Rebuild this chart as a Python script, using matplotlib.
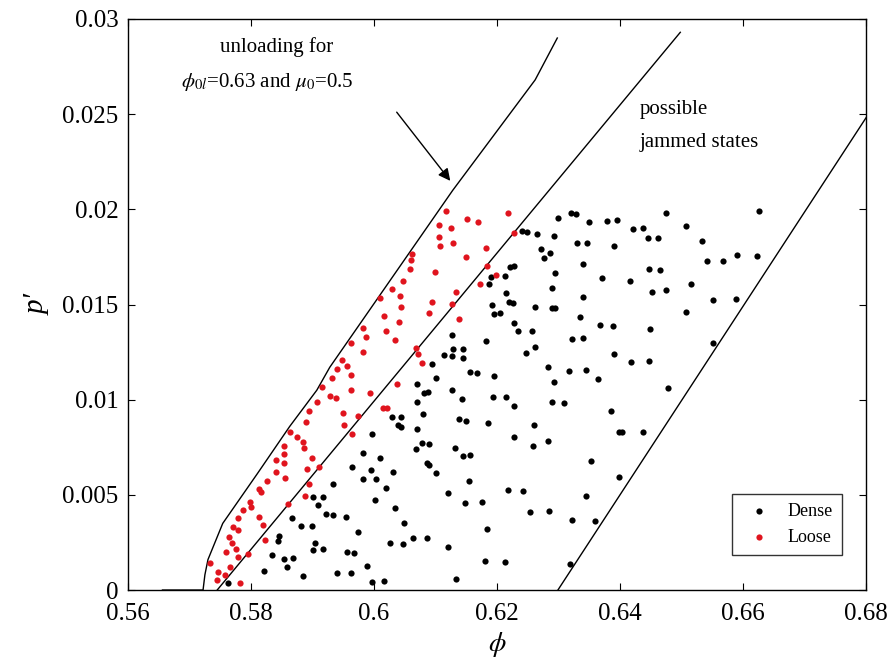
import matplotlib
matplotlib.use("Agg")
import matplotlib.pyplot as plt
import numpy as np

plt.rcParams['font.family'] = ['Liberation Serif', 'DejaVu Serif']
plt.rcParams['mathtext.fontset'] = 'stix'

# dense samples (phi, p')
dense_phi = [
    0.59338, 0.59013, 0.59176, 0.59085, 0.59215, 0.59328, 0.58672, 0.58813, 0.58987, 0.58450,
    0.58444, 0.59041, 0.59013, 0.59176, 0.58337, 0.58537, 0.58678, 0.58580, 0.58211, 0.58850,
    0.59393, 0.57631,
    0.61263, 0.61279, 0.61442, 0.61138, 0.61273, 0.61442, 0.60938, 0.61561, 0.61670, 0.61008,
    0.60694, 0.60818, 0.60873, 0.61273,
    0.60704, 0.61426, 0.60288, 0.60439, 0.60395, 0.60439, 0.60802, 0.60704, 0.61382, 0.61496,
    0.59963, 0.60785, 0.60899, 0.60683, 0.61317, 0.61442, 0.61561, 0.59816, 0.60098, 0.59637,
    0.59951, 0.60314, 0.60856, 0.60894, 0.61008, 0.59826, 0.60028, 0.61550, 0.60195, 0.61198,
    0.60016, 0.61480, 0.60341, 0.59540, 0.60493, 0.59735, 0.60629, 0.60867, 0.60260, 0.60467,
    0.61198, 0.59556, 0.59680, 0.59881, 0.59626, 0.59963, 0.60163, 0.61333,
    0.62997, 0.63203, 0.63285, 0.63501, 0.63784, 0.63946, 0.62411, 0.62493, 0.62646, 0.62932,
    0.63306, 0.63468, 0.63902, 0.62710, 0.62862, 0.62764, 0.63403, 0.62211, 0.62281, 0.62943,
    0.61897, 0.62130, 0.63702, 0.61875, 0.62889, 0.62146, 0.63403, 0.62195, 0.62255, 0.61913,
    0.62618, 0.62889, 0.62943, 0.61951, 0.62049, 0.63350, 0.62276, 0.63675, 0.63881, 0.62337,
    0.62574, 0.63214, 0.63403, 0.61816, 0.62618, 0.62466, 0.63902, 0.62824, 0.63176, 0.63442,
    0.61956, 0.63637, 0.62927,
    0.61940, 0.62146, 0.62281, 0.62899, 0.63094, 0.63849, 0.61859, 0.62606, 0.62281, 0.62590,
    0.62824, 0.63984, 0.63528, 0.63984, 0.62174, 0.62428, 0.61751, 0.63442, 0.62537, 0.62850,
    0.63214, 0.63593, 0.61842, 0.61805, 0.62135, 0.63187,
    0.64743, 0.64217, 0.64379, 0.65068, 0.64460, 0.64623, 0.65328, 0.66260, 0.65420, 0.65670,
    0.65907, 0.66222, 0.64472, 0.64650, 0.64163, 0.65154, 0.64515, 0.64748, 0.65517, 0.65881,
    0.65073, 0.64488, 0.65517, 0.64179, 0.64476, 0.64776, 0.64028, 0.64379,
]
dense_p = [
    0.00555, 0.00490, 0.00490, 0.00447, 0.00399, 0.00396, 0.00377, 0.00336, 0.00336, 0.00284,
    0.00259, 0.00249, 0.00210, 0.00214, 0.00184, 0.00163, 0.00170, 0.00119, 0.00101, 0.00075,
    0.00088, 0.00035,
    0.01340, 0.01265, 0.01265, 0.01235, 0.01231, 0.01217, 0.01187, 0.01144, 0.01139, 0.01116,
    0.01081, 0.01033, 0.01039, 0.01051,
    0.00989, 0.01002, 0.00907, 0.00911, 0.00867, 0.00858, 0.00925, 0.00844, 0.00897, 0.00890,
    0.00818, 0.00771, 0.00767, 0.00739, 0.00745, 0.00704, 0.00708, 0.00721, 0.00692, 0.00645,
    0.00630, 0.00622, 0.00666, 0.00657, 0.00616, 0.00582, 0.00583, 0.00571, 0.00534, 0.00508,
    0.00473, 0.00456, 0.00431, 0.00384, 0.00350, 0.00306, 0.00275, 0.00272, 0.00245, 0.00242,
    0.00228, 0.00198, 0.00194, 0.00126, 0.00091, 0.00040, 0.00046, 0.00059,
    0.01956, 0.01979, 0.01974, 0.01932, 0.01940, 0.01944, 0.01888, 0.01881, 0.01869, 0.01860,
    0.01822, 0.01825, 0.01807, 0.01792, 0.01772, 0.01744, 0.01711, 0.01695, 0.01702, 0.01667,
    0.01646, 0.01650, 0.01638, 0.01606, 0.01587, 0.01562, 0.01541, 0.01513, 0.01509, 0.01496,
    0.01489, 0.01483, 0.01480, 0.01449, 0.01454, 0.01436, 0.01401, 0.01391, 0.01387, 0.01361,
    0.01361, 0.01320, 0.01326, 0.01310, 0.01275, 0.01247, 0.01240, 0.01173, 0.01152, 0.01156,
    0.01126, 0.01109, 0.01091,
    0.01016, 0.01012, 0.00968, 0.00986, 0.00984, 0.00940, 0.00879, 0.00869, 0.00802, 0.00755,
    0.00783, 0.00832, 0.00678, 0.00595, 0.00525, 0.00522, 0.00461, 0.00495, 0.00408, 0.00417,
    0.00368, 0.00364, 0.00322, 0.00152, 0.00147, 0.00137,
    0.01982, 0.01895, 0.01900, 0.01914, 0.01851, 0.01851, 0.01835, 0.01993, 0.01729, 0.01729,
    0.01762, 0.01756, 0.01685, 0.01681, 0.01623, 0.01609, 0.01567, 0.01576, 0.01524, 0.01527,
    0.01461, 0.01371, 0.01296, 0.01200, 0.01203, 0.01063, 0.00829, 0.00830,
]

# loose samples (phi, p')
loose_phi = [
    0.59070, 0.59285, 0.59382, 0.58948, 0.58889, 0.58634, 0.58753, 0.58850, 0.58862, 0.58537,
    0.58541, 0.58407, 0.58541, 0.58407, 0.58992, 0.58915, 0.59101, 0.58558, 0.58265, 0.58125,
    0.58158, 0.58948, 0.58873, 0.57984, 0.57995, 0.57875, 0.57793, 0.58130, 0.57712, 0.57793,
    0.58190, 0.58597, 0.57647, 0.57686, 0.57751, 0.57593, 0.58228, 0.57793, 0.57956, 0.57333,
    0.57659, 0.57468, 0.57577, 0.57442, 0.57821,
    0.61166, 0.61507, 0.61696, 0.61062, 0.61247, 0.61062, 0.61289, 0.61073, 0.61491, 0.60623,
    0.60597, 0.60585, 0.60992, 0.60467, 0.60298, 0.60423, 0.60098, 0.61328, 0.60434, 0.60943,
    0.61273, 0.60899, 0.60167, 0.61377, 0.60401, 0.59826, 0.59870, 0.60195, 0.60336, 0.59621,
    0.59816, 0.60678, 0.60720, 0.60776, 0.59475, 0.59566, 0.59403, 0.59621, 0.59312, 0.59621,
    0.59935, 0.60379,
    0.62183, 0.62276, 0.61816, 0.61832, 0.61979, 0.61724,
    0.59501, 0.59512, 0.59745, 0.59637, 0.60151, 0.60207, 0.59149,
]
loose_p = [
    0.00989, 0.01019, 0.01007, 0.00942, 0.00881, 0.00832, 0.00805, 0.00776, 0.00745, 0.00758,
    0.00713, 0.00683, 0.00666, 0.00622, 0.00695, 0.00634, 0.00648, 0.00587, 0.00574, 0.00529,
    0.00515, 0.00555, 0.00494, 0.00464, 0.00438, 0.00420, 0.00377, 0.00385, 0.00333, 0.00315,
    0.00342, 0.00452, 0.00280, 0.00245, 0.00214, 0.00201, 0.00263, 0.00175, 0.00189, 0.00140,
    0.00122, 0.00096, 0.00077, 0.00053, 0.00035,
    0.01993, 0.01949, 0.01932, 0.01918, 0.01900, 0.01856, 0.01825, 0.01809, 0.01748, 0.01765,
    0.01734, 0.01685, 0.01672, 0.01625, 0.01580, 0.01545, 0.01533, 0.01564, 0.01485, 0.01515,
    0.01501, 0.01454, 0.01440, 0.01424, 0.01408, 0.01378, 0.01331, 0.01361, 0.01314, 0.01299,
    0.01252, 0.01270, 0.01238, 0.01191, 0.01208, 0.01177, 0.01160, 0.01130, 0.01112, 0.01051,
    0.01037, 0.01082,
    0.01979, 0.01874, 0.01795, 0.01702, 0.01653, 0.01608,
    0.00928, 0.00867, 0.00914, 0.00820, 0.00955, 0.00958, 0.01068,
]

# unloading curve and jammed-state bounds
unload_phi = [0.5656, 0.5722, 0.5725, 0.5730, 0.5754, 0.5810, 0.5863, 0.5907, 0.5928, 0.6128, 0.6262, 0.6298]
unload_p = [0.0, 0.0, 0.0008, 0.0016, 0.0035, 0.0061, 0.0086, 0.0105, 0.0117, 0.0210, 0.0268, 0.0290]
mid_phi = [0.5745, 0.6498]
mid_p = [0.0, 0.0293]
right_phi = [0.6299, 0.6820]
right_p = [0.0, 0.0258]

xticks = [0.56, 0.58, 0.6, 0.62, 0.64, 0.66, 0.68]
xticklabels = ['0.56', '0.58', '0.6', '0.62', '0.64', '0.66', '0.68']
yticks = [0, 0.005, 0.01, 0.015, 0.02, 0.025, 0.03]
yticklabels = ['0', '0.005', '0.01', '0.015', '0.02', '0.025', '0.03']

red = '#e0141e'

fig = plt.figure(figsize=(8.94, 6.64), dpi=100)
ax = fig.add_axes([0.1432, 0.1114, 0.8255, 0.86])

ax.plot(unload_phi, unload_p, color='black', lw=1.0)
ax.plot(mid_phi, mid_p, color='black', lw=1.0)
ax.plot(right_phi, right_p, color='black', lw=1.0)

ax.scatter(dense_phi, dense_p, s=20, color='black', linewidths=0, label='Dense', zorder=3)
ax.scatter(loose_phi, loose_p, s=20, color=red, linewidths=0, label='Loose', zorder=3)

ax.set_xlim(0.56, 0.68)
ax.set_ylim(0, 0.03)
ax.set_xticks(xticks)
ax.set_xticklabels(xticklabels)
ax.set_yticks(yticks)
ax.set_yticklabels(yticklabels)
ax.tick_params(direction='in', length=5, top=True, right=True, labelsize=18, width=0.8)
ax.tick_params(axis='x', pad=9)
ax.tick_params(axis='y', pad=7)
for s in ax.spines.values():
    s.set_linewidth(1.0)

ax.set_xlabel(r'$\phi$', fontsize=20, labelpad=4)
ax.set_ylabel('p\u2032', fontsize=21, fontstyle='italic', labelpad=8)

ax.text(0.58423, 0.02853, 'unloading for', fontsize=15, ha='center', va='center')
ax.text(0.5826, 0.02669, r'$\phi_{0l}$=0.63 and $\mu_0$=0.5', fontsize=15, ha='center', va='center')
ax.annotate('', xy=(0.61268, 0.02138), xytext=(0.60341, 0.02522),
            arrowprops=dict(arrowstyle='-|>', color='black', lw=1.0, mutation_scale=18))
ax.text(0.64325, 0.02522, 'possible', fontsize=15, ha='left', va='center')
ax.text(0.64325, 0.02349, 'jammed states', fontsize=15, ha='left', va='center')

leg = ax.legend(loc='lower right', bbox_to_anchor=(0.9675, 0.0613), borderaxespad=0,
                fontsize=13, frameon=True, fancybox=False, edgecolor='black',
                handletextpad=0.6, markerscale=1.0, borderpad=0.5, labelspacing=0.5)
leg.get_frame().set_linewidth(1.0)

fig.savefig('out.png', dpi=100)
